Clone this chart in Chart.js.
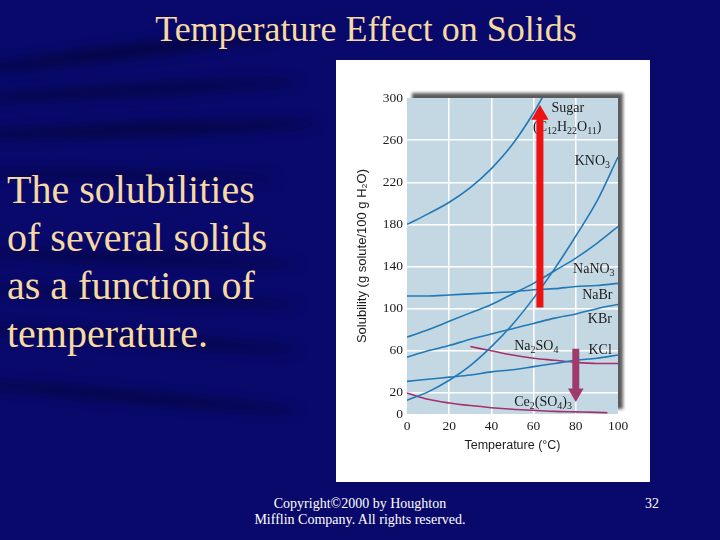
<!DOCTYPE html>
<html>
<head>
<meta charset="utf-8">
<script src="https://cdn.jsdelivr.net/npm/chart.js"></script>
<style>
html,body{margin:0;padding:0;}
body{width:720px;height:540px;position:relative;overflow:hidden;background:#09096c;font-family:"Liberation Serif","Times New Roman",serif;}
.streak{position:absolute;background:#020224;filter:blur(6px);border-radius:50%;opacity:0.6;}
#title{position:absolute;left:0;width:732px;top:9px;line-height:40px;text-align:center;color:#f7d9a2;font-size:36px;}
#side{position:absolute;left:7px;top:166px;color:#f7d9a2;font-size:40px;line-height:48px;}
#panel{position:absolute;left:336px;top:60px;width:314px;height:422px;background:#fff;}
#copy{position:absolute;left:240px;width:240px;top:496px;text-align:center;color:#fff;font-size:14px;line-height:16.4px;}
#page{position:absolute;left:645px;top:496px;color:#fff;font-size:14px;line-height:16.4px;}
</style>
</head>
<body>
<div class="streak" style="left:-40px;top:44px;width:360px;height:12px;transform:rotate(-7deg);"></div>
<div class="streak" style="left:-40px;top:86px;width:340px;height:9px;transform:rotate(-3deg);"></div>
<div class="streak" style="left:-40px;top:124px;width:360px;height:11px;transform:rotate(-2deg);"></div>
<div class="streak" style="left:-40px;top:172px;width:320px;height:7px;transform:rotate(1deg);"></div>
<div class="streak" style="left:-40px;top:254px;width:340px;height:8px;transform:rotate(2deg);"></div>
<div class="streak" style="left:-40px;top:292px;width:340px;height:8px;transform:rotate(3deg);"></div>
<div class="streak" style="left:-40px;top:334px;width:340px;height:9px;transform:rotate(4deg);"></div>
<div class="streak" style="left:-40px;top:392px;width:340px;height:9px;transform:rotate(5deg);"></div>

<div id="title">Temperature Effect on Solids</div>
<div id="side">The solubilities<br>of several solids<br>as a function of<br>temperature.</div>
<div id="panel"><canvas id="myChart" width="314" height="422"></canvas></div>
<div id="copy">Copyright©2000 by Houghton<br>Mifflin Company. All rights reserved.</div>
<div id="page">32</div>

<script>
// temperatures (°C) and solubilities (g solute / 100 g water)
const temps = [0, 10, 20, 30, 40, 50, 60, 70, 80, 90, 100];
const sugar = [180, 190, 201, 215, 233, 256, 286, 322, null, null, null];
const kno3 = [13, 21, 32, 46, 64, 85, 110, 138, 169, 202, 244];
const nano3 = [73, 80, 88, 96, 104, 114, 124, 136, 148, 162, 178];
const nabr = [112, 112, 113, 114, 115, 116, 118, 119, 121, 122, 124];
const kbr = [54, 60, 65, 71, 76, 81, 86, 91, 95, 100, 104];
const kcl = [31, 33, 35, 37, 40, 42, 45, 48, 51, 53, 56];
const na2so4 = [null, null, null, 64, 60, 56, 53, 51, 49, 48, 48];
const ceTemps = [0, 10, 20, 30, 40, 50, 60, 70, 80, 90, 95];
const ce2so43 = [20, 14, 10.5, 8, 6, 4.5, 3.5, 2.5, 2, 1.5, 1.2];

const yTicks = [0, 20, 60, 100, 140, 180, 220, 260, 300];

// arrows: [start, tip]
const riseArrow = [[63, 101], [63, 284]];
const fallArrow = [[80, 62], [80, 20]];

const curveLabels = [
    {text: 'Sugar', x: 68.5, y: 290},
    {text: '(C_12H_22O_11)', x: 59.7, y: 272},
    {text: 'KNO_3', x: 79.5, y: 240},
    {text: 'NaNO_3', x: 78.7, y: 137},
    {text: 'NaBr', x: 83, y: 113},
    {text: 'KBr', x: 85.7, y: 90},
    {text: 'KCl', x: 86, y: 60},
    {text: 'Na_2SO_4', x: 50.8, y: 64},
    {text: 'Ce_2(SO_4)_3', x: 50.8, y: 11}
];

const BLUE = '#2179b6';
const MAGENTA = '#a4306c';
const SERIF = "'Liberation Serif', 'Times New Roman', serif";
const SANS = "'Liberation Sans', Arial, sans-serif";

const toPoints = (xs, ys) => xs.map((x, i) => ({x: x, y: ys[i]}));

const curve = (data, color) => ({
    data: data,
    borderColor: color,
    borderWidth: 1.6,
    pointRadius: 0,
    fill: false,
    cubicInterpolationMode: 'monotone',
    order: 1
});

const arrow = (pts, color, size, rot) => ({
    data: pts.map(p => ({x: p[0], y: p[1]})),
    borderColor: color,
    backgroundColor: color,
    borderWidth: 7,
    borderCapStyle: 'butt',
    pointStyle: 'triangle',
    pointRadius: [0, size],
    pointRotation: rot,
    pointBorderWidth: 0,
    pointBackgroundColor: color,
    order: 0
});

const plotBg = {
    id: 'plotBg',
    beforeDraw(chart) {
        const {ctx, chartArea: a} = chart;
        ctx.save();
        ctx.shadowColor = 'rgba(50,50,50,0.8)';
        ctx.shadowBlur = 3;
        ctx.shadowOffsetX = 5;
        ctx.shadowOffsetY = -5;
        ctx.fillStyle = '#c4d8e4';
        ctx.fillRect(a.left, a.top, a.right - a.left, a.bottom - a.top);
        ctx.restore();
    }
};

const drawRich = (ctx, str, x, y) => {
    const parts = str.split(/_(\d+)/);
    parts.forEach((p, i) => {
        if (!p) return;
        const sub = i % 2 === 1;
        ctx.font = (sub ? '10px ' : '14px ') + SERIF;
        ctx.fillText(p, x, sub ? y + 4 : y);
        x += ctx.measureText(p).width;
    });
};

const labelPlugin = {
    id: 'curveLabels',
    beforeDatasetsDraw(chart) {
        const {ctx, scales} = chart;
        ctx.save();
        ctx.fillStyle = '#1c1c1c';
        ctx.textBaseline = 'middle';
        ctx.textAlign = 'left';
        curveLabels.forEach(l => {
            drawRich(ctx, l.text, scales.x.getPixelForValue(l.x), scales.y.getPixelForValue(l.y));
        });
        ctx.restore();
    }
};

var ctx = document.getElementById('myChart').getContext('2d');
var chart = new Chart(ctx, {
    type: 'line',
    data: {
        datasets: [
            arrow(riseArrow, '#ee1212', 10, 0),
            arrow(fallArrow, '#9e3b6c', 9, 180),
            curve(toPoints(temps, sugar), BLUE),
            curve(toPoints(temps, kno3), BLUE),
            curve(toPoints(temps, nano3), BLUE),
            curve(toPoints(temps, nabr), BLUE),
            curve(toPoints(temps, kbr), BLUE),
            curve(toPoints(temps, kcl), BLUE),
            curve(toPoints(temps, na2so4), MAGENTA),
            curve(toPoints(ceTemps, ce2so43), MAGENTA)
        ]
    },
    options: {
        responsive: false,
        animation: false,
        layout: {padding: {top: 38, right: 32, left: 0, bottom: 0}},
        plugins: {legend: {display: false}, tooltip: {enabled: false}},
        scales: {
            x: {
                type: 'linear',
                min: 0,
                max: 100,
                border: {display: false},
                grid: {
                    drawTicks: false,
                    lineWidth: 1.5,
                    color: c => (c.tick && (c.tick.value === 0 || c.tick.value === 100)) ? 'rgba(0,0,0,0)' : '#ffffff'
                },
                ticks: {stepSize: 20, padding: 4, color: '#1c1c1c', font: {family: SERIF, size: 13.5}},
                title: {display: true, text: 'Temperature (°C)', color: '#1c1c1c',
                    font: {family: SANS, size: 12.5}, padding: {top: 4, bottom: 28.5}},
                afterFit: s => { s.height = 68; }
            },
            y: {
                min: 0,
                max: 300,
                border: {display: false},
                afterBuildTicks: s => { s.ticks = yTicks.map(v => ({value: v})); },
                grid: {
                    drawTicks: false,
                    lineWidth: 1.5,
                    color: c => (c.tick && (c.tick.value === 0 || c.tick.value === 300)) ? 'rgba(0,0,0,0)' : '#ffffff'
                },
                ticks: {padding: 4, color: '#1c1c1c', font: {family: SERIF, size: 13.5}},
                title: {display: true, text: 'Solubility (g solute/100 g H₂O)', color: '#1c1c1c',
                    font: {family: SANS, size: 13}, padding: {top: 19, bottom: 0}},
                afterFit: s => { s.width = 71; }
            }
        }
    },
    plugins: [plotBg, labelPlugin]
});
</script>
</body>
</html>
